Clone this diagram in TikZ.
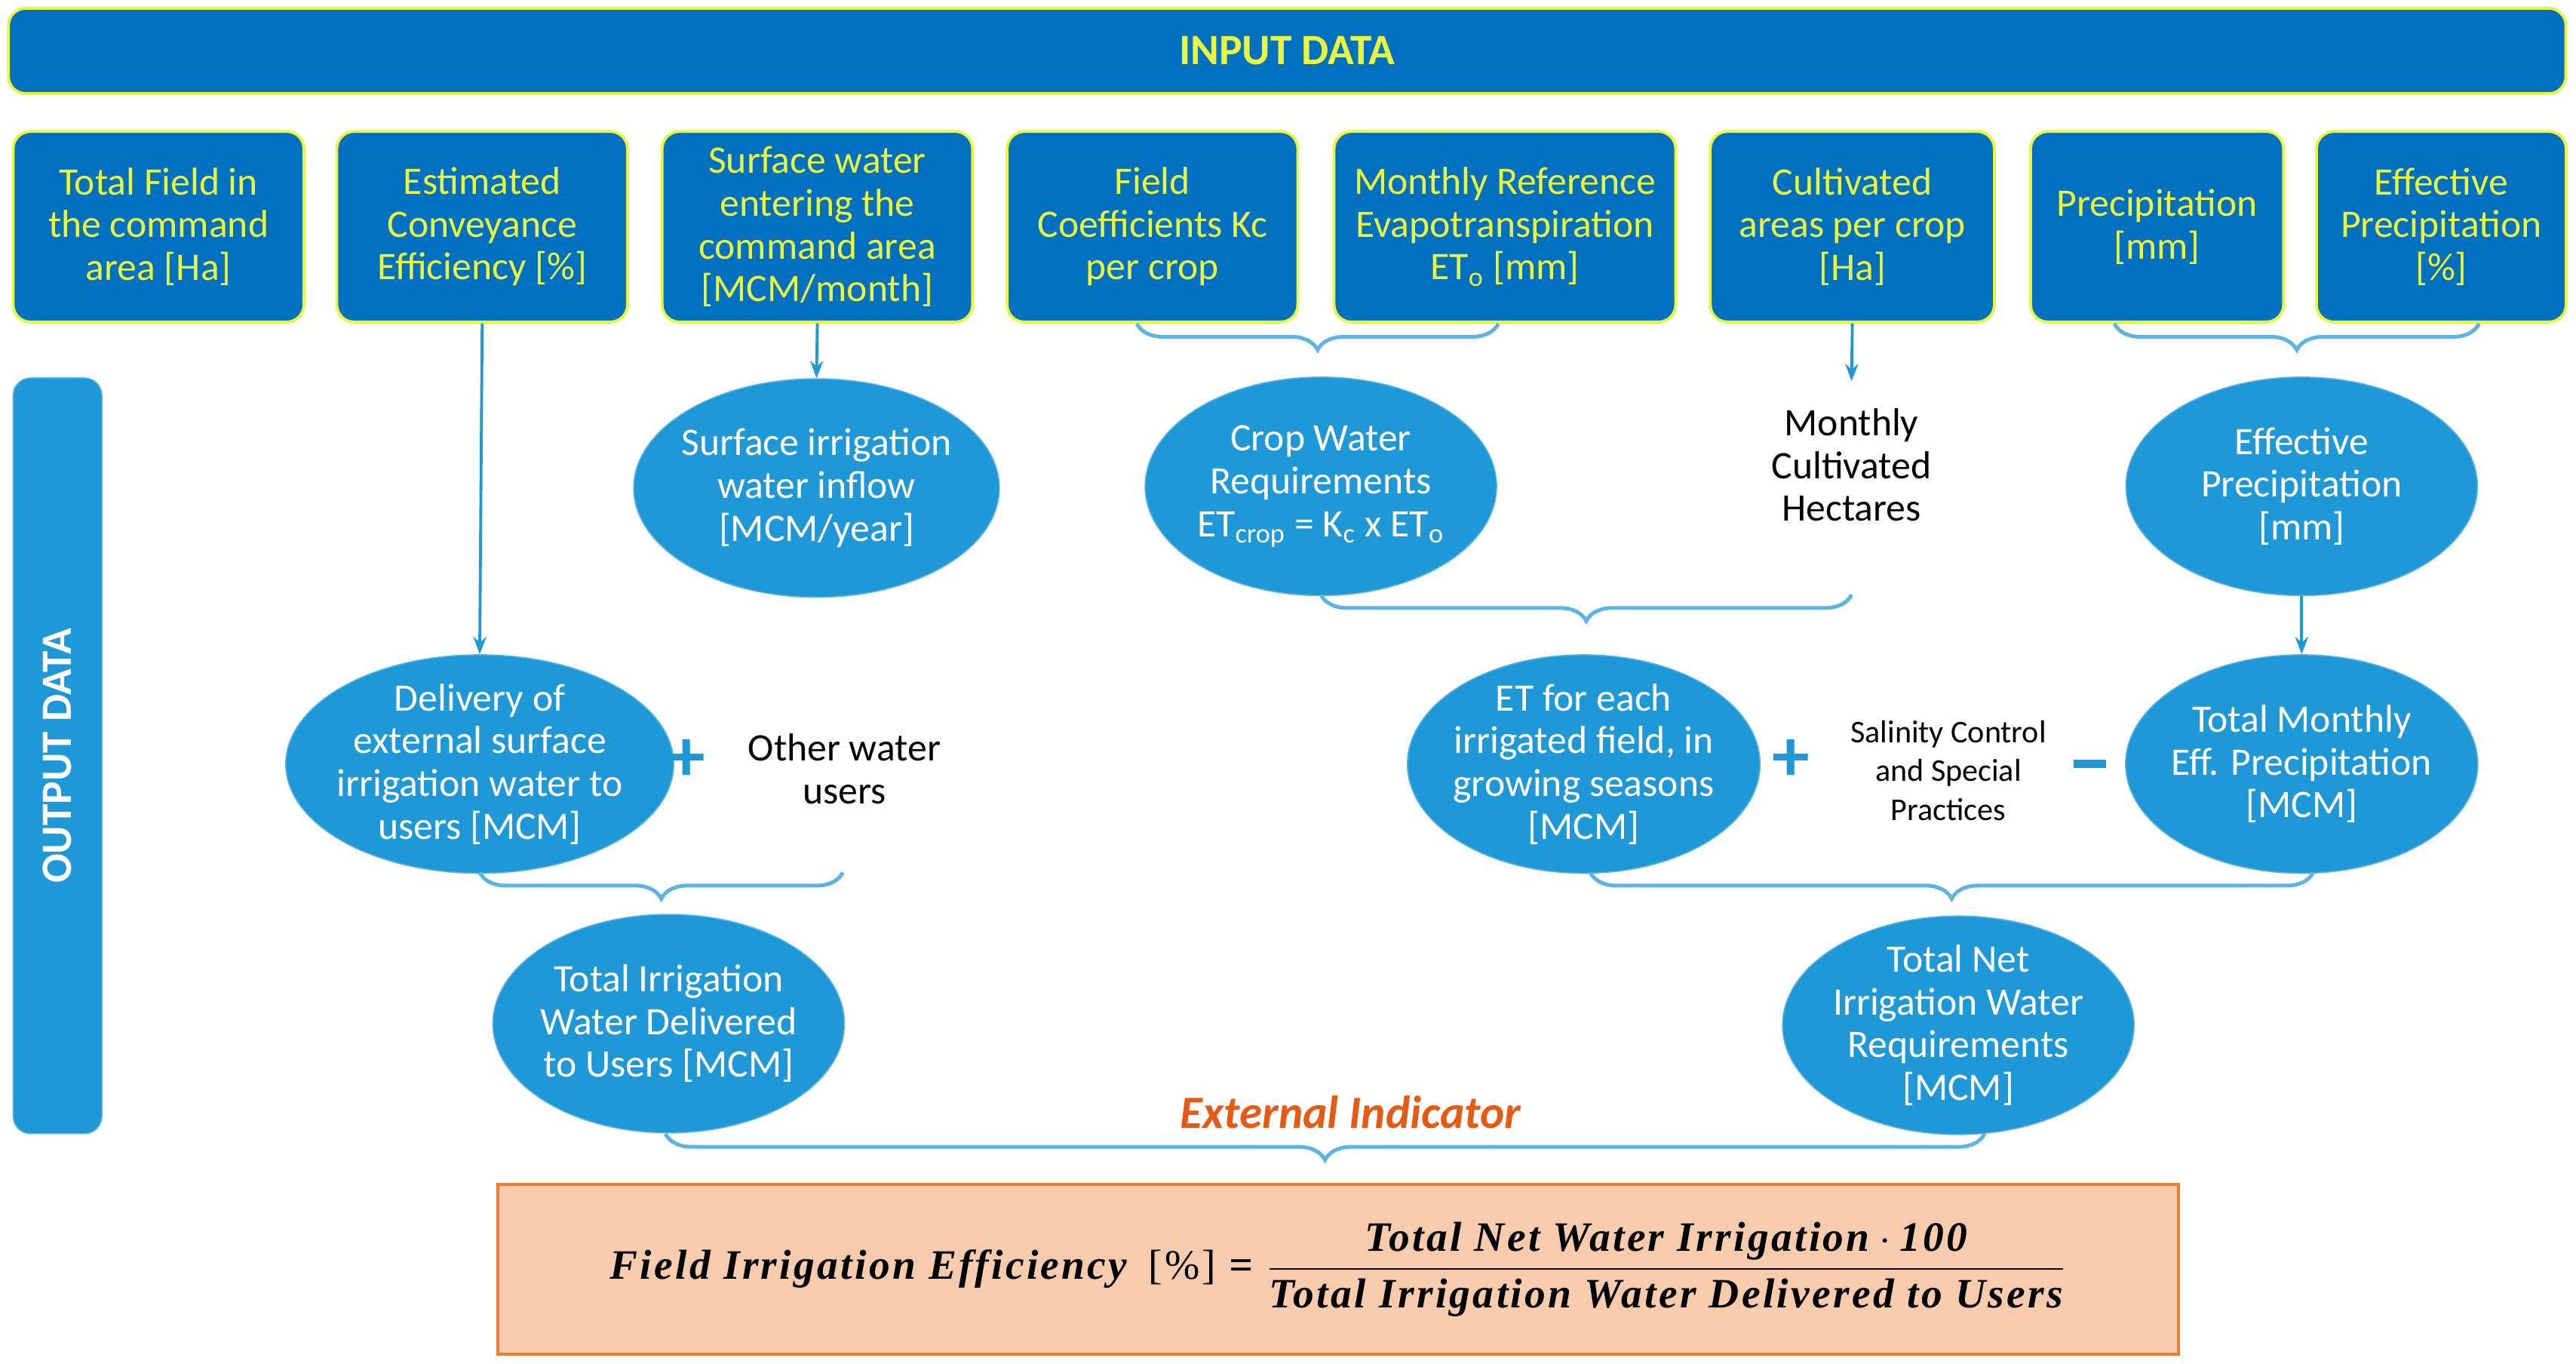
\documentclass[tikz,border=0pt]{standalone}
\usepackage{amsmath}
\usepackage{fontspec}
\setmainfont{Carlito}
\newfontfamily\formfont[LetterSpace=6]{Liberation Serif}
\usetikzlibrary{shapes.geometric}
\usetikzlibrary{decorations.pathreplacing}
\usetikzlibrary{arrows.meta}
\definecolor{darkblue}{RGB}{0,112,192}
\definecolor{midblue}{RGB}{30,152,214}
\definecolor{lineblue}{RGB}{91,179,230}
\definecolor{limetext}{RGB}{235,245,60}
\definecolor{peach}{RGB}{248,203,173}
\definecolor{orangeline}{RGB}{237,125,49}
\definecolor{orangetext}{RGB}{230,90,20}
\tikzset{
  inbox/.style={draw=limetext, line width=1pt, fill=darkblue, rounded corners=6pt,
    text=limetext, align=center, inner sep=0pt, minimum height=2.32cm,
    font=\fontsize{13.5}{14.8}\selectfont},
  outell/.style={ellipse, draw=lineblue, fill=midblue, text=white, align=center,
    inner sep=-2pt, minimum width=4.28cm, minimum height=2.66cm,
    font=\fontsize{13.5}{14.8}\selectfont},
  plain/.style={align=center, font=\fontsize{13.5}{14.8}\selectfont},
  sign/.style={text=midblue, font=\fontsize{26}{26}\selectfont\bfseries},
  brc/.style={draw=lineblue, line width=1.3pt, decorate,
    decoration={brace, mirror, amplitude=0.32cm}},
  arr/.style={draw=midblue, line width=1pt, -{Stealth[length=6pt]}},
}
\begin{document}
\begin{tikzpicture}[x=0.02cm, y=-0.02cm]
\useasboundingbox (0,0) rectangle (1568,830);
% input row
\node[draw=limetext, line width=1pt, fill=darkblue, rounded corners=6pt,
  minimum width=31.14cm, minimum height=1.04cm, text=limetext,
  font=\fontsize{15}{16}\selectfont\bfseries] (input) at (783.5,31) {INPUT DATA};
\node[inbox, minimum width=3.54cm] (total-field) at (96.5,138) {Total Field in\\the command\\area [Ha]};
\node[inbox, minimum width=3.54cm] (conveyance) at (293.5,138) {Estimated\\Conveyance\\Efficiency [\%]};
\node[inbox, minimum width=3.78cm] (surface-in) at (497.5,138) {Surface water\\entering the\\command area\\{[MCM/month]}};
\node[inbox, minimum width=3.54cm] (kc) at (701.5,138) {Field\\Coefficients Kc\\per crop};
\node[inbox, minimum width=4.16cm] (eto) at (916,138) {Monthly Reference\\Evapotranspiration\\ET\textsubscript{o} [mm]};
\node[inbox, minimum width=3.46cm] (cult-area) at (1127.5,138) {Cultivated\\areas per crop\\{[Ha]}};
\node[inbox, minimum width=3.08cm] (precip) at (1313,138) {Precipitation\\{[mm]}};
\node[inbox, minimum width=3.04cm] (eff-precip) at (1486,138) {Effective\\Precipitation\\{[\%]}};
% output side bar
\node[draw=lineblue, fill=midblue, rounded corners=6pt, minimum width=1.08cm,
  minimum height=9.2cm] (output) at (35,460) {};
\node[rotate=90, text=white, font=\fontsize{15}{16}\selectfont\bfseries] at (output) {OUTPUT DATA};
% first output row
\node[outell] (inflow) at (497,297) {Surface irrigation\\water inflow\\{[MCM/year]}};
\node[outell] (cwr) at (804,296) {Crop Water\\Requirements\\ET\textsubscript{crop} = K\textsubscript{c} x ET\textsubscript{o}};
\node[plain] (hectares) at (1127,283) {Monthly\\Cultivated\\Hectares};
\node[outell] (eff-mm) at (1401,296) {Effective\\Precipitation\\{[mm]}};
% second output row
\node[outell] (delivery) at (292,465) {Delivery of\\external surface\\irrigation water to\\users [MCM]};
\node[sign] (plus-a) at (418,463) {+};
\node[plain] (other-users) at (514,468) {Other water\\users};
\node[outell] (et-field) at (964,465) {ET for each\\irrigated field, in\\growing seasons\\{[MCM]}};
\node[sign] (plus-b) at (1090,463) {+};
\node[plain, font=\fontsize{11}{13.5}\selectfont] (salinity) at (1186,469) {Salinity Control\\and Special\\Practices};
\node[sign] (minus) at (1272,465) {\rule{0.4cm}{3pt}};
\node[outell] (tot-eff) at (1401,465) {Total Monthly\\Eff. Precipitation\\{[MCM]}};
% third output row
\node[outell] (delivered) at (407,623) {Total Irrigation\\Water Delivered\\to Users [MCM]};
\node[outell] (net-req) at (1192,624) {Total Net\\Irrigation Water\\Requirements\\{[MCM]}};
\node[text=orangetext, font=\fontsize{16}{18}\selectfont\bfseries\itshape] (ext) at (822,677) {External Indicator};
\node[draw=orangeline, line width=1pt, fill=peach, minimum width=20.46cm,
  minimum height=2.06cm] (formula) at (814.5,772.5) {};
\node[font=\fontsize{14.5}{16}\formfont\bfseries\itshape] at (formula)
  {Field Irrigation Efficiency\enspace{\upshape\mdseries [\%]} =
   $\dfrac{\text{Total Net Water Irrigation}\cdot\text{100}}{\text{Total Irrigation Water Delivered to Users}}$};
% arrows
\draw[arr] (conveyance.south) -- (delivery.north);
\draw[arr] (surface-in.south) -- (inflow.north);
\draw[arr] (cult-area.south) -- (1127,232);
\draw[arr] (eff-mm.south) -- (tot-eff.north);
% braces
\draw[brc] (692,197) -- (912,197);
\draw[brc] (1287,197) -- (1509,197);
\draw[brc] (804,362) -- (1127,362);
\draw[brc] (292,531) -- (513,531);
\draw[brc] (968,531) -- (1408,531);
\draw[brc] (405,690) -- (1208,690);
\end{tikzpicture}
\end{document}
